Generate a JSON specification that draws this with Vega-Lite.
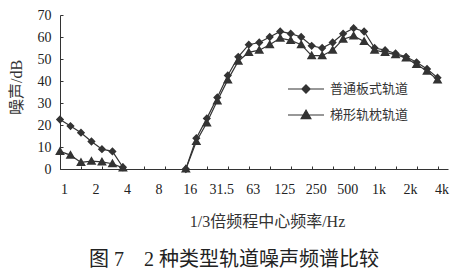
{
  "$schema": "https://vega.github.io/schema/vega-lite/v6.json",
  "width": 388,
  "height": 154,
  "autosize": {"type": "none"},
  "padding": {"left": 60, "top": 15, "right": 10, "bottom": 109},
  "background": "white",
  "config": {
    "view": {"stroke": null},
    "axis": {"grid": false, "domainColor": "#333", "tickColor": "#333", "labelColor": "#222", "titleColor": "#333", "titleFontWeight": "normal"}
  },
  "title": {
    "text": "图 7\u30002 种类型轨道噪声频谱比较",
    "orient": "bottom",
    "anchor": "middle",
    "frame": "group",
    "dx": -20,
    "offset": 21,
    "font": "Liberation Serif, Noto Sans CJK SC",
    "fontSize": 20,
    "fontWeight": "normal",
    "color": "#222"
  },
  "data": {
    "values": [
      {"band": 0, "series": "普通板式轨道", "dB": 22.5}, {"band": 0, "series": "梯形轨枕轨道", "dB": 8},
      {"band": 1, "series": "普通板式轨道", "dB": 19.5}, {"band": 1, "series": "梯形轨枕轨道", "dB": 6.3},
      {"band": 2, "series": "普通板式轨道", "dB": 16.5}, {"band": 2, "series": "梯形轨枕轨道", "dB": 3},
      {"band": 3, "series": "普通板式轨道", "dB": 12.5}, {"band": 3, "series": "梯形轨枕轨道", "dB": 3.6},
      {"band": 4, "series": "普通板式轨道", "dB": 9}, {"band": 4, "series": "梯形轨枕轨道", "dB": 3.2},
      {"band": 5, "series": "普通板式轨道", "dB": 8}, {"band": 5, "series": "梯形轨枕轨道", "dB": 2.4},
      {"band": 6, "series": "普通板式轨道", "dB": 0.8}, {"band": 6, "series": "梯形轨枕轨道", "dB": 0.5},
      {"band": 7, "series": "普通板式轨道", "dB": null}, {"band": 7, "series": "梯形轨枕轨道", "dB": null},
      {"band": 11, "series": "普通板式轨道", "dB": null}, {"band": 11, "series": "梯形轨枕轨道", "dB": null},
      {"band": 12, "series": "普通板式轨道", "dB": 0}, {"band": 12, "series": "梯形轨枕轨道", "dB": 0},
      {"band": 13, "series": "普通板式轨道", "dB": 14}, {"band": 13, "series": "梯形轨枕轨道", "dB": 12.5},
      {"band": 14, "series": "普通板式轨道", "dB": 23}, {"band": 14, "series": "梯形轨枕轨道", "dB": 21},
      {"band": 15, "series": "普通板式轨道", "dB": 32.5}, {"band": 15, "series": "梯形轨枕轨道", "dB": 31},
      {"band": 16, "series": "普通板式轨道", "dB": 42.5}, {"band": 16, "series": "梯形轨枕轨道", "dB": 40.5},
      {"band": 17, "series": "普通板式轨道", "dB": 51}, {"band": 17, "series": "梯形轨枕轨道", "dB": 49},
      {"band": 18, "series": "普通板式轨道", "dB": 56.5}, {"band": 18, "series": "梯形轨枕轨道", "dB": 53},
      {"band": 19, "series": "普通板式轨道", "dB": 57.5}, {"band": 19, "series": "梯形轨枕轨道", "dB": 54},
      {"band": 20, "series": "普通板式轨道", "dB": 60}, {"band": 20, "series": "梯形轨枕轨道", "dB": 56.5},
      {"band": 21, "series": "普通板式轨道", "dB": 62.5}, {"band": 21, "series": "梯形轨枕轨道", "dB": 59.5},
      {"band": 22, "series": "普通板式轨道", "dB": 61.5}, {"band": 22, "series": "梯形轨枕轨道", "dB": 58.5},
      {"band": 23, "series": "普通板式轨道", "dB": 60}, {"band": 23, "series": "梯形轨枕轨道", "dB": 56.5},
      {"band": 24, "series": "普通板式轨道", "dB": 56}, {"band": 24, "series": "梯形轨枕轨道", "dB": 51.5},
      {"band": 25, "series": "普通板式轨道", "dB": 55}, {"band": 25, "series": "梯形轨枕轨道", "dB": 51.5},
      {"band": 26, "series": "普通板式轨道", "dB": 57.5}, {"band": 26, "series": "梯形轨枕轨道", "dB": 54},
      {"band": 27, "series": "普通板式轨道", "dB": 61.5}, {"band": 27, "series": "梯形轨枕轨道", "dB": 59},
      {"band": 28, "series": "普通板式轨道", "dB": 64}, {"band": 28, "series": "梯形轨枕轨道", "dB": 60.5},
      {"band": 29, "series": "普通板式轨道", "dB": 62.5}, {"band": 29, "series": "梯形轨枕轨道", "dB": 58},
      {"band": 30, "series": "普通板式轨道", "dB": 55}, {"band": 30, "series": "梯形轨枕轨道", "dB": 54},
      {"band": 31, "series": "普通板式轨道", "dB": 54}, {"band": 31, "series": "梯形轨枕轨道", "dB": 53},
      {"band": 32, "series": "普通板式轨道", "dB": 52.5}, {"band": 32, "series": "梯形轨枕轨道", "dB": 52},
      {"band": 33, "series": "普通板式轨道", "dB": 51}, {"band": 33, "series": "梯形轨枕轨道", "dB": 50.5},
      {"band": 34, "series": "普通板式轨道", "dB": 48.5}, {"band": 34, "series": "梯形轨枕轨道", "dB": 47.5},
      {"band": 35, "series": "普通板式轨道", "dB": 45.5}, {"band": 35, "series": "梯形轨枕轨道", "dB": 44.5},
      {"band": 36, "series": "普通板式轨道", "dB": 41.5}, {"band": 36, "series": "梯形轨枕轨道", "dB": 40.5}
    ]
  },
  "encoding": {
    "x": {
      "field": "band",
      "type": "quantitative",
      "scale": {"domain": [0, 37], "nice": false, "zero": false},
      "axis": {
        "title": "1/3倍频程中心频率/Hz",
        "values": [0,1,2,3,4,5,6,7,8,9,10,11,12,13,14,15,16,17,18,19,20,21,22,23,24,25,26,27,28,29,30,31,32,33,34,35,36],
        "labelExpr": "datum.value % 3 === 0 ? ['1','2','4','8','16','31.5','63','125','250','500','1k','2k','4k'][datum.value / 3] : ''",
        "tickSize": -3,
        "tickOpacity": {"condition": {"test": "datum.value % 2 === 0", "value": 1}, "value": 0},
        "labelPadding": 16,
        "labelOffset": 4,
        "labelFlush": false,
        "labelOverlap": false,
        "labelFont": "Liberation Serif",
        "labelFontSize": 14,
        "titleFont": "Liberation Serif, Noto Sans CJK SC",
        "titleFontSize": 16,
        "titleX": 207,
        "titleY": 52,
        "titleBaseline": "middle",
        "titleAlign": "center"
      }
    },
    "y": {
      "field": "dB",
      "type": "quantitative",
      "scale": {"domain": [0, 70], "nice": false},
      "axis": {
        "title": "噪声/dB",
        "values": [0, 10, 20, 30, 40, 50, 60, 70],
        "tickSize": -3,
        "labelPadding": 12,
        "labelFont": "Liberation Serif",
        "labelFontSize": 14,
        "titleFont": "Liberation Serif, Noto Sans CJK SC",
        "titleFontSize": 16,
        "titleX": -44,
        "titleY": 72,
        "titleBaseline": "middle",
        "titleAlign": "center",
        "titleAngle": -90
      }
    },
    "color": {
      "field": "series",
      "type": "nominal",
      "scale": {"domain": ["普通板式轨道", "梯形轨枕轨道"], "range": ["#333", "#333"]},
      "legend": {
        "title": null,
        "orient": "none",
        "legendX": 227,
        "legendY": 55,
        "symbolSize": 1296,
        "symbolStrokeWidth": 1.2,
        "labelFont": "Noto Sans CJK SC",
        "labelFontSize": 13,
        "labelColor": "#333",
        "labelOffset": 5,
        "rowPadding": -7
      }
    }
  },
  "layer": [
    {
      "mark": {"type": "line", "strokeWidth": 1.2, "invalid": "break-paths-filter-domains"}
    },
    {
      "mark": {"type": "point", "filled": true, "opacity": 1, "size": 1296},
      "encoding": {
        "shape": {
          "field": "series",
          "type": "nominal",
          "scale": {
            "domain": ["普通板式轨道", "梯形轨枕轨道"],
            "range": ["M-1,0H1M0,-0.23L0.23,0L0,0.23L-0.23,0Z", "M-1,0H1M0,-0.27L0.27,0.2L-0.27,0.2Z"]
          },
          "legend": {
            "title": null,
            "orient": "none",
            "legendX": 227,
            "legendY": 55,
            "symbolSize": 1296,
            "symbolStrokeWidth": 1.2,
            "labelFont": "Noto Sans CJK SC",
            "labelFontSize": 13,
            "labelColor": "#333",
            "labelOffset": 5,
            "rowPadding": -7
          }
        }
      }
    }
  ]
}
